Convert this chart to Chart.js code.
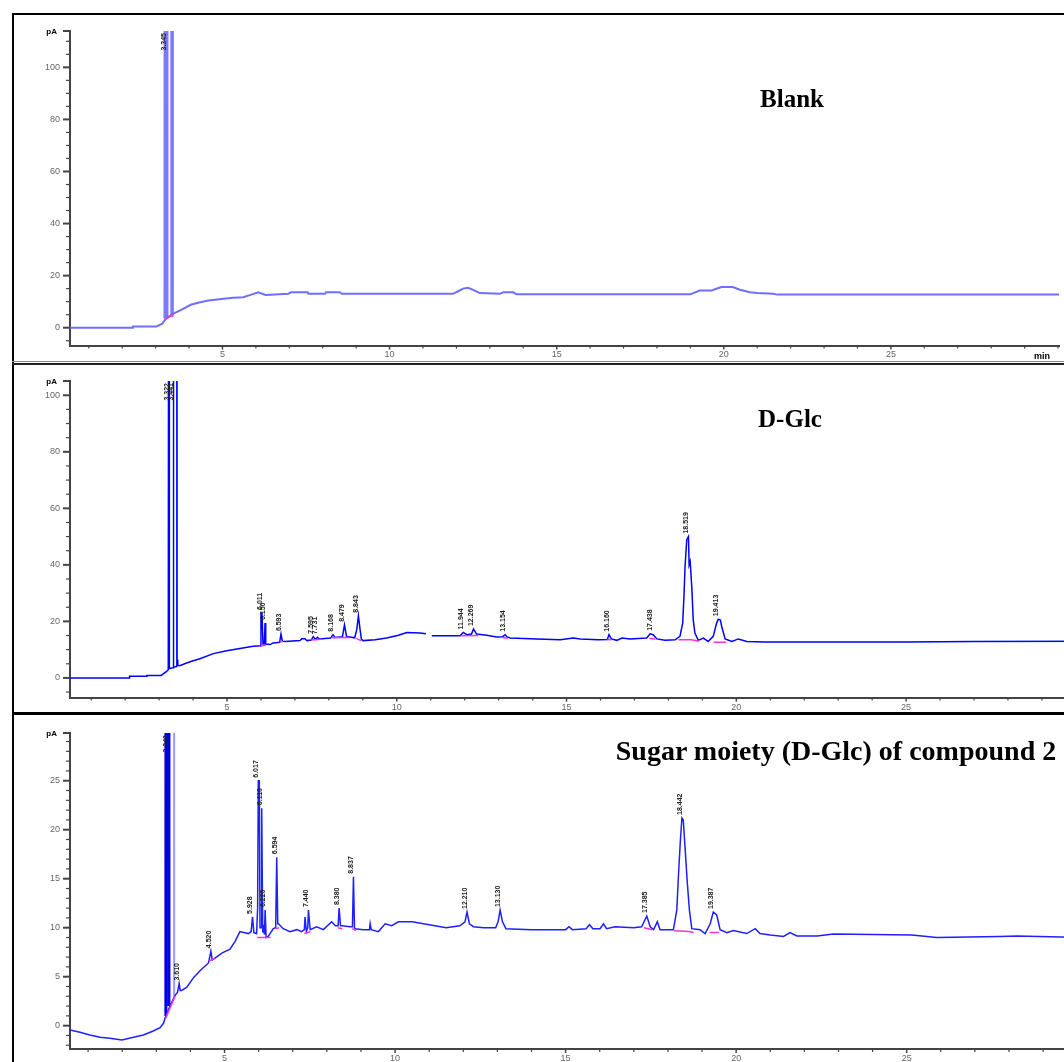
<!DOCTYPE html>
<html lang="en">
<head>
<meta charset="UTF-8">
<title>GC chromatograms: Blank, D-Glc, sugar moiety of compound 2</title>
<script src="https://cdn.jsdelivr.net/npm/chart.js"></script>
<style>
  html, body { margin: 0; padding: 0; width: 1064px; height: 1062px; overflow: hidden; background: #fff; }
  .line { position: absolute; }
  canvas { position: absolute; }
  .title { position: absolute; font-family: "Liberation Serif", "Times New Roman", serif; font-weight: bold; color: #000; transform: translate(-50%, -50%); white-space: nowrap; }
  .unit { position: absolute; font-family: "Liberation Sans", Arial, sans-serif; font-weight: bold; font-size: 9px; color: #000; }
</style>
</head>
<body>
  <!-- panel frames -->
  <div class="line" style="left:12px;top:13px;width:1060px;height:1.5px;background:#000"></div>
  <div class="line" style="left:12px;top:13px;width:1.5px;height:1060px;background:#000"></div>
  <div class="line" style="left:12px;top:361px;width:1060px;height:1px;background:#888"></div>
  <div class="line" style="left:12px;top:363px;width:1060px;height:1.5px;background:#222"></div>
  <div class="line" style="left:12px;top:712px;width:1060px;height:3px;background:#000"></div>

  <canvas id="blankChart" width="1051" height="347" style="left:13px;top:14px"></canvas>
  <canvas id="glcChart" width="1070" height="349" style="left:13px;top:364px"></canvas>
  <canvas id="cmpChart" width="1070" height="353" style="left:13px;top:714px"></canvas>

  <div class="title" style="left:792px;top:99px;font-size:25px">Blank</div>
  <div class="title" style="left:790px;top:419px;font-size:25px">D-Glc</div>
  <div class="title" style="left:836px;top:751px;font-size:28px">Sugar moiety (D-Glc) of compound 2</div>
  <div class="unit" style="left:1034px;top:351px">min</div>

<script>
// ---- Blank ----
const blankTime = [0.44, 2.31, 2.32, 3.03, 3.20, 3.30, 3.53, 3.78, 4.05, 4.33, 4.58, 5.04, 5.32, 5.62, 5.84, 6.07, 6.29, 6.97, 7.05, 7.55, 7.57, 8.07, 8.10, 8.51, 8.57, 11.90, 12.05, 12.20, 12.35, 12.50, 12.70, 13.30, 13.40, 13.70, 13.80, 19.00, 19.28, 19.63, 19.93, 20.27, 20.48, 20.78, 21.00, 21.48, 21.60, 30.03];
const blankSignal = [0, 0, 0.5, 0.5, 1.5, 3.4, 5.4, 6.9, 8.8, 9.8, 10.4, 11.1, 11.5, 11.7, 12.6, 13.6, 12.6, 13.0, 13.6, 13.6, 13.0, 13.0, 13.6, 13.6, 13.0, 13.0, 14.0, 15.0, 15.3, 14.5, 13.3, 13.0, 13.6, 13.6, 12.8, 12.8, 14.3, 14.3, 15.6, 15.6, 14.6, 13.6, 13.3, 13.0, 12.7, 12.7];
const blankSpikeTime = [3.28, 3.29, 3.33, 3.34, null, 3.48, 3.485, 3.495, 3.50];
const blankSpikeSignal = [3.6, 400, 400, 4.0, null, 4.6, 400, 400, 4.8];
const blankCoreTime = [3.30, 3.30];
const blankCoreSignal = [3.4, 9.5];
const blankBaseTime = [3.30, 3.53];
const blankBaseSignal = [3.3, 5.0];
const blankPeakTime = [3.30];
const blankPeakTop = [400];
const blankPeakText = ['3.345'];

// ---- D-Glc ----
const glcTime = [0.376, 2.12, 2.13, 2.63, 2.64, 3.06, 3.22, 3.27, 3.295, 3.30, 3.305, 3.41, 3.42, 3.425, 3.43, 3.515, 3.52, 3.525, 3.53, 3.55, 3.61, 3.81, 3.96, 4.20, 4.60, 4.99, 5.38, 5.77, 5.98, 6.00, 6.03, 6.06, 6.10, 6.12, 6.14, 6.27, 6.36, 6.55, 6.59, 6.63, 6.71, 7.15, 7.20, 7.30, 7.35, 7.48, 7.54, 7.60, 7.66, 7.72, 8.05, 8.12, 8.18, 8.33, 8.40, 8.46, 8.52, 8.62, 8.76, 8.82, 8.87, 8.92, 8.96, 9.01, 9.36, 9.70, 10.05, 10.29, 10.68, 10.86, 10.95, 11.03, 11.86, 11.96, 12.06, 12.20, 12.26, 12.35, 12.65, 12.94, 13.12, 13.19, 13.25, 13.34, 14.12, 14.81, 15.20, 15.40, 15.94, 16.20, 16.25, 16.32, 16.48, 16.63, 16.87, 17.36, 17.46, 17.55, 17.66, 17.90, 18.20, 18.34, 18.42, 18.46, 18.49, 18.54, 18.59, 18.61, 18.64, 18.69, 18.73, 18.78, 18.88, 19.03, 19.17, 19.32, 19.42, 19.47, 19.53, 19.57, 19.67, 19.87, 20.06, 20.31, 20.84, 25.00, 27.00, 30.21];
const glcSignal = [0, 0, 0.6, 0.6, 0.9, 0.9, 2.3, 2.9, 400, 400, 3.3, 3.6, 400, 400, 3.8, 4.0, 400, 400, 6.5, 4.5, 4.3, 5.3, 5.9, 6.8, 8.6, 9.6, 10.4, 11.2, 11.4, 23.0, 23.0, 12.0, 12.0, 19.4, 12.0, 11.8, 12.4, 12.6, 15.5, 13.0, 12.9, 13.2, 13.9, 13.9, 13.2, 13.4, 14.6, 13.6, 14.4, 13.8, 14.1, 15.3, 14.3, 14.5, 14.6, 18.8, 14.7, 14.5, 14.2, 17.0, 22.0, 17.0, 13.6, 13.2, 13.5, 14.1, 15.1, 16.1, 15.9, 15.6, null, 14.9, 14.9, 16.1, 15.3, 15.5, 17.3, 15.5, 15.1, 14.5, 14.6, 15.3, 14.5, 14.1, 13.8, 13.5, 14.1, 13.8, 13.5, 13.6, 15.3, 13.8, 13.3, 14.1, 13.8, 14.1, 15.6, 15.3, 13.8, 13.3, 13.5, 14.7, 19.4, 29.4, 39.4, 48.9, 50.0, 40.0, 41.2, 31.8, 20.6, 15.9, 13.3, 14.1, 12.9, 14.7, 19.4, 20.8, 20.5, 18.2, 13.8, 12.9, 13.8, 12.9, 12.7, 12.7, 12.9, 13.0];
const glcBaseTime = [6.00, 6.14, 6.2, 6.55, 6.65, 6.7, 7.48, 7.78, 7.8, 8.08, 8.62, 8.7, 8.80, 8.95, 9.0, 11.88, 12.40, 12.5, 13.12, 13.27, 13.3, 16.20, 16.33, 16.4, 17.44, 17.62, 17.7, 18.30, 18.68, 18.90, 19.0, 19.33, 19.70];
const glcBaseSignal = [11.3, 11.6, null, 12.7, 12.9, null, 13.4, 13.7, null, 14.2, 14.3, null, 14.0, 13.2, null, 14.9, 15.0, null, 14.3, 14.0, null, 13.6, 13.5, null, 14.0, 13.7, null, 13.5, 13.5, 13.0, null, 12.6, 12.6];
const glcPeakTime = [3.30, 3.42, 6.02, 6.12, 6.59, 7.54, 7.66, 8.12, 8.46, 8.87, 11.96, 12.26, 13.19, 16.25, 17.51, 18.59, 19.47];
const glcPeakTop = [400, 400, 23.0, 19.4, 15.5, 14.6, 14.4, 15.3, 18.8, 22.0, 16.1, 17.3, 15.3, 15.3, 15.6, 50.0, 20.8];
const glcPeakText = ['3.322', '3.441', '6.011', '6.150', '6.593', '7.595', '7.731', '8.168', '8.479', '8.843', '11.944', '12.269', '13.154', '16.160', '17.438', '18.519', '19.413'];

// ---- Sugar moiety of compound 2 ----
const cmpTime = [0.47, 0.76, 1.05, 1.35, 1.64, 1.99, 2.33, 2.62, 2.91, 3.11, 3.21, 3.26, 3.40, 3.55, 3.62, 3.67, 3.70, 3.74, 3.89, 4.09, 4.28, 4.53, 4.60, 4.64, 4.72, 4.92, 5.16, 5.31, 5.45, 5.70, 5.78, 5.82, 5.86, 5.94, 5.97, 5.99, 6.02, 6.04, 6.07, 6.09, 6.12, 6.14, 6.17, 6.19, 6.22, 6.28, 6.43, 6.50, 6.53, 6.56, 6.58, 6.72, 6.92, 7.12, 7.26, 7.34, 7.36, 7.40, 7.44, 7.46, 7.51, 7.70, 7.90, 8.14, 8.25, 8.33, 8.36, 8.40, 8.44, 8.68, 8.75, 8.78, 8.81, 8.83, 9.07, 9.25, 9.27, 9.30, 9.51, 9.71, 9.90, 10.10, 10.50, 11.00, 11.50, 11.90, 12.05, 12.11, 12.18, 12.30, 12.60, 12.95, 13.02, 13.08, 13.15, 13.25, 14.00, 15.00, 15.10, 15.20, 15.60, 15.70, 15.80, 16.01, 16.11, 16.20, 16.45, 16.99, 17.23, 17.38, 17.48, 17.58, 17.69, 17.77, 18.16, 18.26, 18.31, 18.36, 18.41, 18.45, 18.50, 18.57, 18.63, 18.70, 18.94, 19.09, 19.24, 19.33, 19.43, 19.53, 19.73, 19.92, 20.31, 20.56, 20.70, 21.00, 21.39, 21.58, 21.78, 22.37, 22.85, 25.15, 25.88, 27.74, 28.23, 30.17];
const cmpSignal = [-0.44, -0.68, -0.95, -1.19, -1.29, -1.46, -1.19, -0.95, -0.54, -0.2, 0.24, 0.8, 2.0, 3.1, 3.4, 4.3, 3.6, 3.6, 3.9, 4.9, 5.6, 6.4, 7.6, 6.7, 6.9, 7.4, 7.8, 8.6, 9.6, 9.4, 9.6, 11.1, 9.5, 9.4, 12.0, 25.0, 25.0, 10.0, 10.0, 22.2, 9.5, 10.3, 9.3, 11.8, 9.0, 9.1, 9.9, 10.0, 17.2, 10.4, 10.4, 9.9, 9.6, 9.8, 9.6, 9.8, 11.1, 9.6, 10.0, 11.8, 9.8, 10.1, 9.8, 10.6, 10.2, 10.2, 12.0, 10.2, 10.2, 10.1, 10.1, 15.2, 10.0, 9.9, 9.8, 9.8, 10.4, 9.8, 9.6, 10.4, 10.2, 10.6, 10.6, 10.3, 10.0, 10.2, 10.6, 11.6, 10.4, 10.1, 10.0, 10.0, 10.6, 11.8, 10.6, 9.9, 9.8, 9.8, 10.1, 9.8, 9.9, 10.3, 9.9, 9.9, 10.4, 9.9, 10.1, 10.0, 10.1, 11.2, 10.1, 9.8, 10.6, 9.8, 9.8, 11.8, 15.4, 18.6, 21.2, 21.0, 18.3, 14.5, 11.8, 9.9, 9.8, 9.4, 10.4, 11.6, 11.3, 9.8, 9.5, 9.7, 9.4, 9.9, 9.4, 9.25, 9.1, 9.5, 9.15, 9.15, 9.35, 9.25, 9.0, 9.1, 9.15, 9.0];
const cmpSpikeTime = [3.28, 3.29, 3.36, 3.37];
const cmpSpikeSignal = [1.0, 200, 200, 2.0];
const cmpThinTime = [3.51, 3.515, 3.525, 3.53];
const cmpThinSignal = [3.0, 200, 200, 3.0];
const cmpBaseTime = [3.28, 3.55, 3.6, 4.55, 4.72, 4.8, 5.96, 6.35, 6.4, 6.50, 6.60, 6.7, 7.34, 7.52, 7.6, 8.32, 8.45, 8.5, 8.74, 8.86, 8.9, 17.30, 17.55, 17.6, 18.18, 18.62, 18.75, 18.8, 19.22, 19.50];
const cmpBaseSignal = [0.8, 3.0, null, 6.6, 6.9, null, 9.0, 9.0, null, 9.9, 10.0, null, 9.4, 9.6, null, 10.0, 9.9, null, 9.9, 9.7, null, 10.0, 9.8, null, 9.7, 9.6, 9.5, null, 9.5, 9.5];
const cmpPeakTime = [3.33, 3.67, 4.60, 5.82, 5.99, 6.09, 6.19, 6.53, 7.46, 8.36, 8.78, 12.11, 13.08, 17.38, 18.41, 19.33];
const cmpPeakTop = [200, 4.3, 7.6, 11.1, 25.0, 22.2, 11.8, 17.2, 11.8, 12.0, 15.2, 11.6, 11.8, 11.2, 21.2, 11.6];
const cmpPeakText = ['3.343', '3.610', '4.520', '5.928', '6.017', '6.110', '6.220', '6.594', '7.440', '8.380', '8.837', '12.210', '13.130', '17.385', '18.442', '19.387'];

function toPoints(times, values) {
  return times.map((t, i) => ({ x: t, y: values[i] }));
}

function series(times, values, color, width) {
  return {
    data: toPoints(times, values),
    borderColor: color,
    borderWidth: width,
    pointRadius: 0,
    tension: 0,
    spanGaps: false,
    fill: false
  };
}

// tick marks, "pA" and the rotated retention-time labels
const chromPlugin = {
  id: 'chrom',
  afterDraw(chart, args, opts) {
    const ctx = chart.ctx;
    const area = chart.chartArea;
    const xs = chart.scales.x;
    const ys = chart.scales.y;
    ctx.save();
    ctx.strokeStyle = '#444';
    ys.ticks.forEach(t => {
      const y = ys.getPixelForValue(t.value);
      const major = t.label !== '';
      ctx.lineWidth = major ? 2 : 1.2;
      ctx.beginPath();
      ctx.moveTo(area.left - (major ? 7 : 4), y);
      ctx.lineTo(area.left, y);
      ctx.stroke();
    });
    ctx.lineWidth = 2;
    ctx.beginPath();
    ctx.moveTo(area.left - 7, area.top);
    ctx.lineTo(area.left, area.top);
    ctx.stroke();
    xs.ticks.forEach(t => {
      const x = xs.getPixelForValue(t.value);
      const major = t.label !== '';
      ctx.lineWidth = major ? 1.5 : 1.2;
      ctx.beginPath();
      ctx.moveTo(x, area.bottom);
      ctx.lineTo(x, area.bottom + (major ? 4 : 3));
      ctx.stroke();
    });

    ctx.fillStyle = '#000';
    ctx.font = 'bold 8px "Liberation Sans", Arial, sans-serif';
    ctx.textAlign = 'right';
    ctx.textBaseline = 'middle';
    ctx.fillText('pA', area.left - 13, area.top + 1);

    ctx.font = 'bold 7px "Liberation Sans", Arial, sans-serif';
    ctx.fillStyle = '#222';
    opts.time.forEach((t, i) => {
      const x = xs.getPixelForValue(t);
      const w = ctx.measureText(opts.text[i]).width;
      const yBase = opts.top[i] >= ys.max ? area.top + 2 + w : ys.getPixelForValue(opts.top[i]) - 3;
      ctx.save();
      ctx.translate(x - 2, yBase);
      ctx.rotate(-Math.PI / 2);
      ctx.textAlign = 'left';
      ctx.textBaseline = 'middle';
      ctx.fillText(opts.text[i], 0, 0);
      ctx.restore();
    });
    ctx.restore();
  }
};

function makeChart(id, cfg) {
  return new Chart(document.getElementById(id), {
    type: 'line',
    data: { datasets: cfg.datasets },
    options: {
      responsive: false,
      animation: false,
      events: [],
      layout: { padding: { top: cfg.padTop, right: cfg.padRight, left: 0, bottom: 0 } },
      plugins: {
        legend: { display: false },
        tooltip: { enabled: false },
        chrom: cfg.peaks
      },
      scales: {
        x: {
          type: 'linear',
          min: cfg.xMin,
          max: cfg.xMax,
          grid: { display: false, drawTicks: false },
          border: { color: '#444', width: 2 },
          ticks: {
            stepSize: 1,
            autoSkip: false,
            includeBounds: false,
            maxRotation: 0,
            padding: cfg.xPad,
            color: '#666',
            font: { size: 9, family: '"Liberation Sans", Arial, sans-serif' },
            callback: v => (v % 5 === 0 && v < 30 ? String(v) : '')
          },
          afterFit: s => { s.height = cfg.xHeight; }
        },
        y: {
          type: 'linear',
          min: cfg.yMin,
          max: cfg.yMax,
          grid: { display: false, drawTicks: false },
          border: { color: '#444', width: 2 },
          ticks: {
            stepSize: cfg.yStep,
            autoSkip: false,
            includeBounds: false,
            padding: 10,
            color: '#666',
            font: { size: 9, family: '"Liberation Sans", Arial, sans-serif' },
            callback: v => (Math.abs(v % cfg.yMajor) < 1e-9 ? String(v) : '')
          },
          afterFit: s => { s.width = 57; }
        }
      }
    },
    plugins: [chromPlugin]
  });
}

makeChart('blankChart', {
  xMin: 0.438, xMax: 30.03, yMin: -6.88, yMax: 113.96, yStep: 5, yMajor: 20,
  padTop: 17, padRight: 5, xHeight: 14, xPad: 4,
  peaks: { time: blankPeakTime, top: blankPeakTop, text: blankPeakText },
  datasets: [
    series(blankBaseTime, blankBaseSignal, '#ff33cc', 1.5),
    series(blankTime, blankSignal, '#6e6eff', 2),
    series(blankSpikeTime, blankSpikeSignal, '#7a7aff', 3),
    series(blankCoreTime, blankCoreSignal, '#0000cc', 2)
  ]
});

makeChart('glcChart', {
  xMin: 0.376, xMax: 30.21, yMin: -6.96, yMax: 105.05, yStep: 5, yMajor: 20,
  padTop: 17, padRight: 0, xHeight: 15, xPad: 5,
  peaks: { time: glcPeakTime, top: glcPeakTop, text: glcPeakText },
  datasets: [
    series(glcBaseTime, glcBaseSignal, '#ff33cc', 1.5),
    series(glcTime, glcSignal, '#0000ff', 1.5)
  ]
});

makeChart('cmpChart', {
  xMin: 0.469, xMax: 30.17, yMin: -2.38, yMax: 29.87, yStep: 1, yMajor: 5,
  padTop: 19, padRight: 0, xHeight: 18, xPad: 4,
  peaks: { time: cmpPeakTime, top: cmpPeakTop, text: cmpPeakText },
  datasets: [
    series(cmpBaseTime, cmpBaseSignal, '#ff33cc', 1.5),
    series(cmpTime, cmpSignal, '#1f1fff', 1.5),
    series(cmpThinTime, cmpThinSignal, '#9a9aff', 1.5),
    series(cmpSpikeTime, cmpSpikeSignal, '#0000e0', 3)
  ]
});
</script>
</body>
</html>
